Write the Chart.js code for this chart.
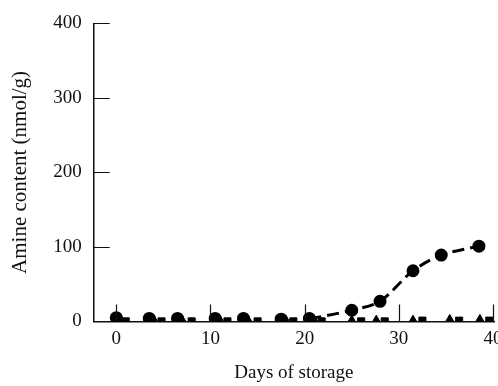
<!DOCTYPE html>
<html>
<head>
<meta charset="utf-8">
<script src="https://cdn.jsdelivr.net/npm/chart.js@4.4.0/dist/chart.umd.min.js"></script>
<style>
  html, body { margin: 0; padding: 0; background: #fff; overflow: hidden; }
  #wrap { width: 502px; height: 386px; }
</style>
</head>
<body>
<div id="wrap"><canvas id="amineChart"></canvas></div>
<script>
// days of storage for each series
const circleDays = [0, 3.5, 6.5, 10.5, 13.5, 17.5, 20.5, 25, 28, 31.5, 34.5, 38.5];
const circleValues = [5, 4, 4, 4, 4, 3, 4, 15, 27, 68, 89, 101];

const triangleDays = [0.5, 4, 7, 11, 14, 18, 21, 25, 27.6, 31.5, 35.4, 38.6];
const triangleValues = [1, 1, 1, 1, 1, 1, 1, 1, 1, 1, 2, 2];

const squareDays = [1, 4.8, 8, 11.8, 15, 18.8, 21.8, 26, 28.5, 32.5, 36.4, 39.6];
const squareValues = [0, 0, 0, 0, 0, 0, 0, 0, 0, 1, 1, 1];

const xTicks = [0, 10, 20, 30, 40];
const yTicks = [0, 100, 200, 300, 400];

const toPoints = (xs, ys) => xs.map((x, i) => ({ x: x, y: ys[i] }));

const serif = '"Liberation Serif", "Times New Roman", serif';

// ticks in this figure point inward, so draw them ourselves
const innerTicks = {
  id: 'innerTicks',
  afterDraw(chart) {
    const { ctx, scales: { x, y }, chartArea } = chart;
    ctx.save();
    ctx.strokeStyle = '#111';
    ctx.lineWidth = 1.2;
    ctx.beginPath();
    yTicks.forEach(v => {
      const py = Math.round(y.getPixelForValue(v)) + 0.5;
      ctx.moveTo(chartArea.left, py);
      ctx.lineTo(chartArea.left + 16, py);
    });
    xTicks.forEach(v => {
      const px = Math.round(x.getPixelForValue(v)) + 0.5;
      ctx.moveTo(px, chartArea.bottom);
      ctx.lineTo(px, chartArea.bottom - 17);
    });
    ctx.stroke();
    ctx.restore();
  }
};

new Chart(document.getElementById('amineChart'), {
  type: 'scatter',
  data: {
    datasets: [
      {
        data: toPoints(squareDays, squareValues),
        pointStyle: 'rect',
        pointRadius: 5,
        backgroundColor: '#000',
        borderColor: '#000',
        showLine: false
      },
      {
        data: toPoints(triangleDays, triangleValues),
        pointStyle: 'triangle',
        pointRadius: 5.5,
        backgroundColor: '#000',
        borderColor: '#000',
        showLine: false
      },
      {
        data: toPoints(circleDays, circleValues),
        pointStyle: 'circle',
        pointRadius: 5,
        backgroundColor: '#000',
        borderColor: '#000',
        showLine: true,
        borderWidth: 3,
        borderDash: [12, 6],
        tension: 0.3,
        segment: {
          // the dashed line only shows once it leaves the baseline
          borderColor: c => c.p1.parsed.y < 10 ? 'rgba(0,0,0,0)' : '#000'
        }
      }
    ]
  },
  options: {
    responsive: true,
    maintainAspectRatio: false,
    animation: false,
    layout: { padding: { top: 15, left: 8, right: 0, bottom: 2 } },
    plugins: {
      legend: { display: false },
      tooltip: { enabled: false }
    },
    scales: {
      x: {
        type: 'linear',
        min: -2.4,
        max: 40.1,
        afterBuildTicks: scale => { scale.ticks = xTicks.map(v => ({ value: v })); },
        afterFit: scale => { scale.paddingRight = 0; scale.paddingLeft = 0; },
        grid: { display: false, drawTicks: false },
        border: { display: true, color: '#111', width: 1.5 },
        ticks: {
          color: '#111',
          padding: 6,
          maxRotation: 0,
          font: { family: serif, size: 19 }
        },
        title: {
          display: true,
          text: 'Days of storage',
          color: '#111',
          padding: { top: 5, bottom: 0 },
          font: { family: serif, size: 19 }
        }
      },
      y: {
        min: 0,
        max: 400,
        afterBuildTicks: scale => { scale.ticks = yTicks.map(v => ({ value: v })); },
        grid: { display: false, drawTicks: false },
        border: { display: true, color: '#111', width: 1.5 },
        ticks: {
          color: '#111',
          padding: 12,
          font: { family: serif, size: 19 }
        },
        title: {
          display: true,
          text: 'Amine content (nmol/g)',
          color: '#111',
          padding: { top: 0, bottom: 8 },
          font: { family: serif, size: 21 }
        }
      }
    }
  },
  plugins: [innerTicks]
});
</script>
</body>
</html>
